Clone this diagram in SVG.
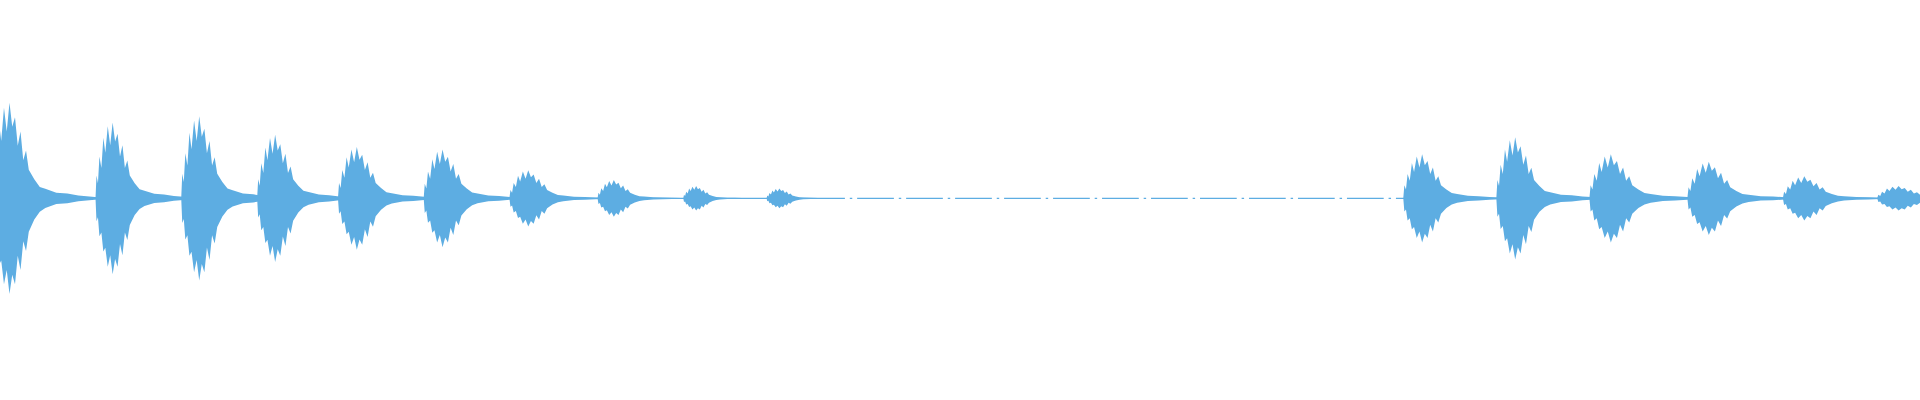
<svg xmlns="http://www.w3.org/2000/svg" width="1920" height="400" viewBox="0 0 1920 400">
<defs>
<path id="b" d="M0,0 L0.02,-0.3 0.05,-0.2 0.08,-0.55 0.12,-0.4 0.16,-0.8 0.2,-0.6 0.25,-0.95 0.3,-0.7 0.35,-1 0.4,-0.75 0.45,-0.85 0.5,-0.55 0.55,-0.7 0.6,-0.4 0.65,-0.5 0.7,-0.3 0.8,-0.2 0.9,-0.12 1.0,-0.1 1.2,-0.06 1.4,-0.05 1.6,-0.03 2,-0.01 L2,0.01 1.6,0.03 1.4,0.05 1.2,0.06 1.0,0.1 0.9,0.14 0.8,0.22 0.7,0.35 0.65,0.55 0.6,0.45 0.55,0.75 0.5,0.6 0.45,0.9 0.4,0.8 0.35,1 0.3,0.75 0.25,0.9 0.2,0.65 0.16,0.7 0.12,0.45 0.08,0.5 0.05,0.25 0.02,0.3 Z"/>
</defs>
<style>use{fill:#5DADE2}.base{stroke:#5DADE2;stroke-width:1;fill:none}</style>
<rect width="1920" height="400" fill="#fff"/>
<g transform="scale(1.2245)">
<line class="base" x1="0" y1="162" x2="660" y2="162"/>
<line class="base" x1="660" y1="162" x2="1148" y2="162" stroke-dasharray="30 4 2 4"/>
<line class="base" x1="1148" y1="162" x2="1568" y2="162"/>
<use href="#b" transform="translate(-8,162) scale(45,78)"/>
<use href="#b" transform="translate(78,162) scale(40,62)"/>
<use href="#b" transform="translate(148,162) scale(42,67)"/>
<use href="#b" transform="translate(210,162) scale(42,52)"/>
<use href="#b" transform="translate(276,162) scale(44,42)"/>
<use href="#b" transform="translate(346,162) scale(44,40)"/>
<use href="#b" transform="translate(416,162) scale(44,23)"/>
<use href="#b" transform="translate(488,162) scale(38,15)"/>
<use href="#b" transform="translate(558,162) scale(30,10)"/>
<use href="#b" transform="translate(626,162) scale(30,8)"/>
<use href="#b" transform="translate(1146,162) scale(44,36)"/>
<use href="#b" transform="translate(1222,162) scale(44,50)"/>
<use href="#b" transform="translate(1298,162) scale(50,36)"/>
<use href="#b" transform="translate(1378,162) scale(50,30)"/>
<use href="#b" transform="translate(1456,162) scale(50,18)"/>
<use href="#b" transform="translate(1533,162) scale(50,10)"/>
</g>
</svg>
